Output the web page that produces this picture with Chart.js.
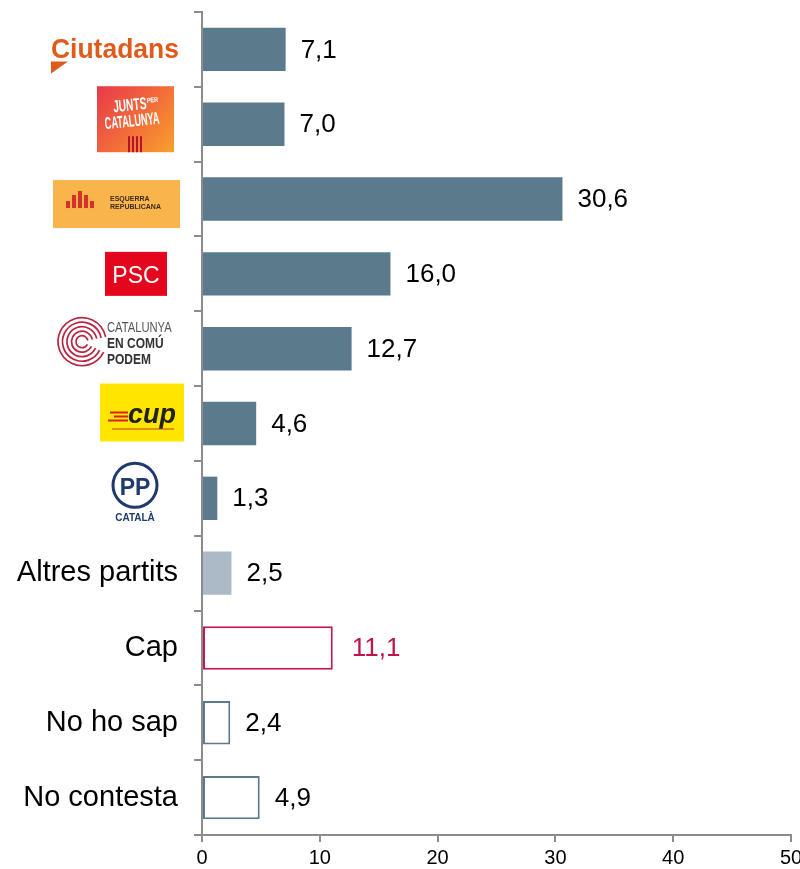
<!DOCTYPE html>
<html>
<head>
<meta charset="utf-8">
<script src="https://cdn.jsdelivr.net/npm/chart.js@4/dist/chart.umd.min.js"></script>
<style>
  html, body { margin: 0; padding: 0; background: #fff; }
  #wrap { width: 800px; height: 869px; }
</style>
</head>
<body>
<div id="wrap"><canvas id="c" width="800" height="869"></canvas></div>
<script>
// categories (first seven are drawn as party logos)
const categories = ['Ciutadans', 'Junts per Catalunya', 'Esquerra Republicana', 'PSC',
  'Catalunya en Comú Podem', 'CUP', 'PP Català', 'Altres partits', 'Cap', 'No ho sap', 'No contesta'];
const logoKeys = ['cs', 'junts', 'erc', 'psc', 'comu', 'cup', 'pp'];
const values = [7.1, 7.0, 30.6, 16.0, 12.7, 4.6, 1.3, 2.5, 11.1, 2.4, 4.9];
const xTicks = [0, 10, 20, 30, 40, 50];

const SLATE = '#5b7b8d';
const fills = values.map((v, i) => i < 7 ? SLATE : i === 7 ? '#abbac6' : '#ffffff');
const strokes = values.map((v, i) => i === 8 ? '#c8174f' : i > 8 ? SLATE : 'rgba(0,0,0,0)');
const widths = values.map((v, i) => i >= 8 ? 2 : 0);
const labelColors = values.map((v, i) => i === 8 ? '#c0134a' : '#000');

const fmt = v => v.toFixed(1).replace('.', ',');

// squeeze text horizontally to fake a condensed face
function narrowText(ctx, txt, x, y, sx) {
  ctx.save();
  ctx.translate(x, y);
  ctx.scale(sx, 1);
  ctx.fillText(txt, 0, 0);
  ctx.restore();
}

// --- logo drawing ---
function drawLogo(ctx, key, cy) {
  ctx.save();
  if (key === 'cs') {
    ctx.fillStyle = '#fff';
    ctx.fillRect(50, cy - 19, 128, 43);
    ctx.fillStyle = '#e05a1c';
    ctx.font = 'bold 27px "Liberation Sans", Arial';
    narrowText(ctx, 'Ciutadans', 51, cy + 9, 0.98);
    ctx.beginPath();
    ctx.moveTo(51, cy + 12); ctx.lineTo(68, cy + 12); ctx.lineTo(51, cy + 24); ctx.closePath();
    ctx.fill();
  } else if (key === 'junts') {
    const g = ctx.createLinearGradient(97, cy - 38, 174, cy + 28);
    g.addColorStop(0, '#e8384a'); g.addColorStop(0.5, '#f26a3a'); g.addColorStop(1, '#f7a12c');
    ctx.fillStyle = g;
    ctx.fillRect(97, cy - 38, 77, 66);
    ctx.fillStyle = '#fff';
    ctx.save();
    ctx.translate(104, cy - 8);
    ctx.rotate(-0.1);
    ctx.font = 'bold 17px "Liberation Sans", Arial';
    narrowText(ctx, 'JUNTS', 10, -3, 0.6);
    ctx.font = 'bold 7px "Liberation Sans", Arial';
    narrowText(ctx, 'PER', 44, -9, 0.8);
    ctx.font = 'bold 17px "Liberation Sans", Arial';
    narrowText(ctx, 'CATALUNYA', 0, 13, 0.54);
    ctx.restore();
    ctx.fillStyle = '#b5122f';
    for (let k = 0; k < 4; k++) ctx.fillRect(128 + k * 4, cy + 12, 2, 16);
  } else if (key === 'erc') {
    ctx.fillStyle = '#f9b54c';
    ctx.fillRect(53, cy - 19, 127, 48);
    ctx.fillStyle = '#d6302a';
    ctx.fillRect(66, cy + 2, 4, 7);
    ctx.fillRect(72, cy - 4, 4, 13);
    ctx.fillRect(78, cy - 8, 4, 17);
    ctx.fillRect(84, cy - 4, 4, 13);
    ctx.fillRect(90, cy + 2, 4, 7);
    ctx.fillStyle = '#3a2a20';
    ctx.font = 'bold 7px "Liberation Sans", Arial';
    ctx.fillText('ESQUERRA', 110, cy + 2);
    ctx.fillText('REPUBLICANA', 110, cy + 10);
  } else if (key === 'psc') {
    ctx.fillStyle = '#e3061d';
    ctx.fillRect(105, cy - 22, 62, 44);
    ctx.fillStyle = '#fff';
    ctx.font = '23px "Liberation Sans", Arial';
    ctx.textAlign = 'center';
    ctx.textBaseline = 'middle';
    ctx.fillText('PSC', 136, cy + 3);
  } else if (key === 'comu') {
    ctx.strokeStyle = '#b8243f';
    ctx.lineWidth = 1.7;
    const cx = 82, yy = cy - 7;
    for (let r = 6; r <= 24; r += 4.5) {
      ctx.beginPath();
      ctx.arc(cx, yy, r, 0.45, Math.PI * 2 - 0.2);
      ctx.stroke();
    }
    ctx.fillStyle = '#555';
    ctx.font = '14px "Liberation Sans", Arial';
    narrowText(ctx, 'CATALUNYA', 107, cy - 17, 0.8);
    ctx.fillStyle = '#333';
    ctx.font = 'bold 15px "Liberation Sans", Arial';
    narrowText(ctx, 'EN COMÚ', 107, cy - 1, 0.8);
    narrowText(ctx, 'PODEM', 107, cy + 15, 0.8);
  } else if (key === 'cup') {
    ctx.fillStyle = '#ffe600';
    ctx.fillRect(100, cy - 40, 84, 58);
    ctx.fillStyle = '#d82020';
    ctx.fillRect(110, cy - 12, 18, 2);
    ctx.fillRect(114, cy - 8, 14, 2);
    ctx.fillRect(108, cy - 4, 20, 2);
    ctx.fillStyle = '#222';
    ctx.font = 'bold italic 27px "Liberation Sans", Arial';
    ctx.fillText('cup', 128, cy - 1);
    ctx.fillStyle = '#c04020';
    ctx.fillRect(112, cy + 5, 62, 1);
  } else if (key === 'pp') {
    ctx.strokeStyle = '#1e3a6e';
    ctx.lineWidth = 3;
    ctx.beginPath();
    ctx.arc(135, cy - 13, 22, 0, Math.PI * 2);
    ctx.stroke();
    ctx.fillStyle = '#1e3a6e';
    ctx.font = 'bold 23px "Liberation Sans", Arial';
    ctx.textAlign = 'center';
    ctx.textBaseline = 'middle';
    ctx.fillText('PP', 135, cy - 10);
    ctx.font = 'bold 10px "Liberation Sans", Arial';
    ctx.fillText('CATALÀ', 135, cy + 20);
  }
  ctx.restore();
}

const logosPlugin = {
  id: 'logos',
  afterDraw(chart) {
    const y = chart.scales.y;
    logoKeys.forEach((k, i) => drawLogo(chart.ctx, k, y.getPixelForValue(i)));
  }
};

const valueLabels = {
  id: 'valueLabels',
  afterDatasetsDraw(chart) {
    const ctx = chart.ctx;
    const meta = chart.getDatasetMeta(0);
    ctx.save();
    ctx.font = '26px "Liberation Sans", Arial';
    ctx.textBaseline = 'middle';
    meta.data.forEach((bar, i) => {
      ctx.fillStyle = labelColors[i];
      ctx.fillText(fmt(values[i]), bar.x + (i === 8 ? 19 : 15), bar.y + 1);
    });
    ctx.restore();
  }
};

new Chart(document.getElementById('c'), {
  type: 'bar',
  data: {
    labels: categories,
    datasets: [{
      data: values,
      backgroundColor: fills,
      borderColor: strokes,
      borderWidth: widths,
      borderSkipped: false,
      barPercentage: 0.58,
      categoryPercentage: 1
    }]
  },
  options: {
    indexAxis: 'y',
    responsive: false,
    animation: false,
    layout: { padding: { top: 12, right: 9, left: 0, bottom: 0 } },
    plugins: { legend: { display: false }, tooltip: { enabled: false } },
    scales: {
      x: {
        min: 0, max: 50,
        afterBuildTicks(scale) { scale.ticks = xTicks.map(v => ({ value: v })); },
        afterFit(scale) { scale.height = 34; scale.paddingLeft = 0; scale.paddingRight = 0; },
        border: { color: '#8c8c8c', width: 2 },
        grid: { drawOnChartArea: false, tickLength: 7, color: '#8c8c8c', lineWidth: 2 },
        ticks: { color: '#000', font: { family: '"Liberation Sans", Arial', size: 20 }, padding: 4 }
      },
      y: {
        afterFit(scale) { scale.width = 202; scale.paddingTop = 0; scale.paddingBottom = 0; },
        border: { color: '#8c8c8c', width: 2 },
        grid: { offset: true, drawOnChartArea: false, tickLength: 8, color: '#8c8c8c', lineWidth: 2 },
        ticks: {
          color: '#000',
          padding: 16,
          font: { family: '"Liberation Sans", Arial', size: 29 },
          callback: (v, i) => i < 7 ? '' : categories[i]
        }
      }
    }
  },
  plugins: [logosPlugin, valueLabels]
});
</script>
</body>
</html>
